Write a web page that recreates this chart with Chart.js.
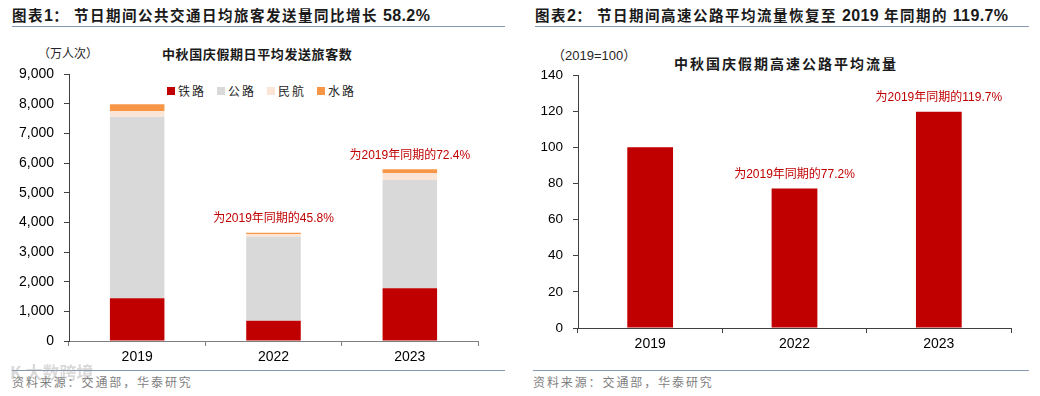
<!DOCTYPE html>
<html>
<head>
<meta charset="utf-8">
<script src="https://cdn.jsdelivr.net/npm/chart.js@4.4.1/dist/chart.umd.min.js"></script>
<style>
  html, body { margin: 0; padding: 0; background: #fff; }
  body { width: 1040px; height: 396px; position: relative; overflow: hidden;
         font-family: 'Liberation Sans', Arial, 'Noto Sans CJK SC', sans-serif; }
  .abs { position: absolute; white-space: nowrap; }
  .fig-title { top: 5px; font-size: 14.5px; font-weight: 700; color: #1a1a1a; letter-spacing: 1.5px;
               font-family: 'Noto Sans CJK SC', sans-serif; line-height: 20px; }
  .fig-title b { font-family: 'Liberation Sans', Arial, sans-serif; font-size: 16px; letter-spacing: 0.4px; }
  .rule { height: 1px; background: #8497b0; }
  .unit { color: #262626; }
  .ctitle { font-family: 'Noto Sans CJK SC', sans-serif; font-weight: 700; color: #1a1a1a; }
  .src { top: 373px; font-size: 12px; color: #7f7f7f; letter-spacing: 1.9px; font-family: 'Noto Sans CJK SC', sans-serif; }
  #legend { top: 82px; left: 167px; display: flex; gap: 11px; font-size: 12px; color: #262626;
            font-family: 'Noto Sans CJK SC', sans-serif; letter-spacing: 2px; }
  #legend span { display: flex; align-items: center; }
  #legend i { display: inline-block; width: 8px; height: 8px; margin-right: 3px; }
  canvas { position: absolute; }
</style>
</head>
<body>
<div class="abs fig-title" style="left:12px">图表<b>1</b>：&nbsp;节日期间公共交通日均旅客发送量同比增长 <b>58.2%</b></div>
<div class="abs rule" style="left:12px; top:26px; width:493px"></div>
<div class="abs fig-title" style="left:535px">图表<b>2</b>：&nbsp;节日期间高速公路平均流量恢复至 <b>2019</b> 年同期的 <b>119.7%</b></div>
<div class="abs rule" style="left:535px; top:26px; width:494px"></div>

<div class="abs unit" style="left:38px; top:44px; font-size:12px; font-family:'Noto Sans CJK SC', sans-serif">（万人次）</div>
<div class="abs ctitle" style="left:162px; top:44px; font-size:13px; letter-spacing:0.6px">中秋国庆假期日平均发送旅客数</div>
<div class="abs unit" style="left:552px; top:45px; font-size:13px">（2019=100）</div>
<div class="abs ctitle" style="left:674px; top:53px; font-size:14px; letter-spacing:2px">中秋国庆假期高速公路平均流量</div>
<div id="legend" class="abs"></div>

<canvas id="c1" width="520" height="330" style="left:0; top:40px"></canvas>
<canvas id="c2" width="520" height="330" style="left:520px; top:40px"></canvas>

<div class="abs rule" style="left:12px; top:370px; width:493px"></div>
<div class="abs rule" style="left:533px; top:370px; width:496px"></div>
<div class="abs src" style="left:12px">资料来源：交通部，华泰研究</div>
<div class="abs src" style="left:533px">资料来源：交通部，华泰研究</div>
<div class="abs" style="left:10px; top:359px; font-size:17px; color:rgba(160,160,160,0.4); font-weight:700; font-family:'Noto Sans CJK SC', sans-serif">K&nbsp;大数跨境</div>

<script>
// chart 1: daily passengers (10k person-trips)
const years     = ['2019', '2022', '2023'];
const modes     = ['铁路', '公路', '民航', '水路'];
const modeColors = ['#c00000', '#d9d9d9', '#fbe5d6', '#f79646'];
const railway   = [1440, 680, 1776];
const road      = [6120, 2835, 3650];
const aviation  = [190, 80, 226];
const water     = [230, 55, 135];
const notes1    = ['', '为2019年同期的45.8%', '为2019年同期的72.4%'];
const yTicks1   = { min: 0, max: 9000, step: 1000 };

// chart 2: highway traffic index (2019=100)
const traffic   = [100, 77.2, 119.7];
const notes2    = ['', '为2019年同期的77.2%', '为2019年同期的119.7%'];
const yTicks2   = { min: 0, max: 140, step: 20 };

const tickFont = { family: "'Liberation Sans', Arial, sans-serif", size: 14 };

// legend
const lg = document.getElementById('legend');
modes.forEach((m, i) => {
  const s = document.createElement('span');
  s.innerHTML = '<i style="background:' + modeColors[i] + '"></i>' + m;
  lg.appendChild(s);
});

// draws the red "为2019年同期的..." text over each bar's total
const notePlugin = {
  id: 'notes',
  afterDatasetsDraw(chart, args, opts) {
    const ctx = chart.ctx, xs = chart.scales.x, ys = chart.scales.y;
    ctx.save();
    ctx.fillStyle = '#c00000';
    ctx.font = "12px 'Liberation Sans', Arial, 'Noto Sans CJK SC', sans-serif";
    ctx.textAlign = 'center';
    ctx.textBaseline = 'middle';
    opts.labels.forEach((t, i) => {
      if (!t) return;
      let total = 0;
      chart.data.datasets.forEach(d => total += d.data[i]);
      ctx.fillText(t, xs.getPixelForValue(i), ys.getPixelForValue(total) - 14);
    });
    ctx.restore();
  }
};

function makeScales(yw, xh, yt, yFontSize, xBorder) {
  return {
    x: {
      stacked: true,
      border: { color: xBorder, width: 1 },
      grid: { display: true, drawOnChartArea: false, tickLength: 5, color: xBorder, offset: true },
      ticks: { color: '#000', font: tickFont, padding: 3 },
      afterFit: s => { s.height = xh; }
    },
    y: {
      stacked: true, min: yt.min, max: yt.max,
      border: { color: '#404040', width: 1 },
      grid: { display: true, drawOnChartArea: false, tickLength: 5, color: '#404040' },
      ticks: { stepSize: yt.step, color: '#000', padding: 10,
               font: { family: tickFont.family, size: yFontSize },
               callback: v => v.toLocaleString('en-US') },
      afterFit: s => { s.width = yw; }
    }
  };
}

const series = [railway, road, aviation, water];

new Chart(document.getElementById('c1'), {
  type: 'bar',
  data: {
    labels: years,
    datasets: series.map((d, i) => ({
      label: modes[i], data: d, backgroundColor: modeColors[i],
      borderWidth: 0, categoryPercentage: 1, barPercentage: 0.4
    }))
  },
  options: {
    responsive: false, animation: false,
    layout: { padding: { left: 0, right: 42, top: 34, bottom: 0 } },
    plugins: { legend: { display: false }, tooltip: { enabled: false }, notes: { labels: notes1 } },
    scales: makeScales(69, 29, yTicks1, 14, '#7f7f7f')
  },
  plugins: [notePlugin]
});

new Chart(document.getElementById('c2'), {
  type: 'bar',
  data: {
    labels: years,
    datasets: [{ data: traffic, backgroundColor: '#c00000', borderWidth: 0,
                 categoryPercentage: 1, barPercentage: 0.317 }]
  },
  options: {
    responsive: false, animation: false,
    layout: { padding: { left: 0, right: 29, top: 35, bottom: 0 } },
    plugins: { legend: { display: false }, tooltip: { enabled: false }, notes: { labels: notes2 } },
    scales: makeScales(58, 42, yTicks2, 13.5, '#404040')
  },
  plugins: [notePlugin]
});
</script>
</body>
</html>
